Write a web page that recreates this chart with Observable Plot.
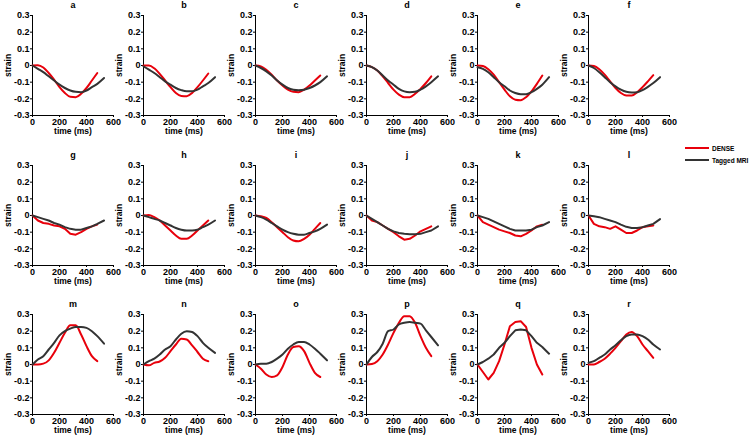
<!DOCTYPE html>
<html><head><meta charset="utf-8">
<script src="https://cdn.jsdelivr.net/npm/d3@7"></script>
<script src="https://cdn.jsdelivr.net/npm/@observablehq/plot@0.6"></script>
<style>
body{margin:0;background:#fff;}
#root{position:relative;width:750px;height:442px;font-family:"Liberation Sans",Arial,sans-serif;overflow:hidden;}
.panel{position:absolute;}
.panel svg{overflow:visible;}
#legend{position:absolute;left:685px;top:142px;font-size:6.5px;font-weight:bold;white-space:nowrap;}
</style></head><body><div id="root"></div>
<script>
const tDense  = [0,40,80,120,160,200,240,280,320,360,400,440,480];
const tTagged = [0,40,80,120,160,200,240,280,320,360,400,440,480,530];
const xTicks = [0,200,400,600];
const yTicks = [-0.3,-0.2,-0.1,0,0.1,0.2,0.3];
const panelLabels = ["a","b","c","d","e","f","g","h","i","j","k","l","m","n","o","p","q","r"];
const seriesNames = ["DENSE","Tagged MRI"];

const denseA  = [0,0.002,-0.012,-0.045,-0.085,-0.13,-0.165,-0.188,-0.19,-0.17,-0.135,-0.09,-0.045];
const taggedA = [0,-0.02,-0.04,-0.065,-0.09,-0.115,-0.135,-0.15,-0.158,-0.16,-0.15,-0.13,-0.11,-0.075];
const denseB  = [0,0,-0.017,-0.05,-0.09,-0.13,-0.165,-0.183,-0.185,-0.165,-0.13,-0.09,-0.048];
const taggedB = [-0.005,-0.025,-0.045,-0.07,-0.095,-0.115,-0.135,-0.148,-0.155,-0.155,-0.145,-0.125,-0.105,-0.07];
const denseC  = [0,-0.005,-0.025,-0.055,-0.09,-0.12,-0.145,-0.158,-0.16,-0.145,-0.12,-0.09,-0.06];
const taggedC = [0,-0.015,-0.035,-0.06,-0.09,-0.115,-0.135,-0.145,-0.148,-0.145,-0.135,-0.12,-0.1,-0.065];
const denseD  = [0,-0.01,-0.03,-0.065,-0.105,-0.145,-0.175,-0.19,-0.19,-0.17,-0.14,-0.105,-0.065];
const taggedD = [0,-0.01,-0.03,-0.06,-0.09,-0.115,-0.14,-0.155,-0.16,-0.158,-0.145,-0.125,-0.1,-0.065];
const denseE  = [0,-0.003,-0.022,-0.055,-0.1,-0.145,-0.185,-0.205,-0.208,-0.19,-0.155,-0.11,-0.06];
const taggedE = [-0.01,-0.02,-0.04,-0.07,-0.1,-0.125,-0.15,-0.165,-0.172,-0.172,-0.16,-0.14,-0.115,-0.07];
const denseF  = [0,-0.003,-0.022,-0.055,-0.095,-0.135,-0.165,-0.18,-0.18,-0.16,-0.13,-0.095,-0.058];
const taggedF = [0,-0.015,-0.04,-0.07,-0.1,-0.125,-0.145,-0.158,-0.162,-0.16,-0.148,-0.128,-0.105,-0.07];
const denseG  = [0,-0.03,-0.045,-0.05,-0.06,-0.065,-0.08,-0.11,-0.115,-0.1,-0.08,-0.065,-0.055];
const taggedG = [0,-0.01,-0.02,-0.03,-0.045,-0.055,-0.07,-0.08,-0.085,-0.085,-0.075,-0.065,-0.05,-0.03];
const denseH  = [0,0.003,-0.01,-0.03,-0.06,-0.09,-0.12,-0.14,-0.14,-0.12,-0.09,-0.06,-0.03];
const taggedH = [0,-0.01,-0.02,-0.03,-0.045,-0.06,-0.075,-0.085,-0.09,-0.09,-0.085,-0.07,-0.055,-0.03];
const denseI  = [0,-0.005,-0.015,-0.04,-0.07,-0.1,-0.13,-0.15,-0.155,-0.14,-0.115,-0.08,-0.045];
const taggedI = [0,-0.01,-0.025,-0.045,-0.065,-0.085,-0.1,-0.11,-0.115,-0.115,-0.105,-0.095,-0.08,-0.055];
const denseJ  = [0,-0.03,-0.04,-0.06,-0.08,-0.1,-0.125,-0.145,-0.14,-0.12,-0.095,-0.08,-0.065];
const taggedJ = [0,-0.02,-0.04,-0.06,-0.08,-0.095,-0.105,-0.11,-0.112,-0.112,-0.11,-0.1,-0.09,-0.065];
const denseK  = [0,-0.04,-0.055,-0.07,-0.085,-0.095,-0.105,-0.12,-0.125,-0.11,-0.09,-0.065,-0.055];
const taggedK = [0,-0.01,-0.02,-0.035,-0.05,-0.065,-0.08,-0.09,-0.09,-0.09,-0.085,-0.07,-0.06,-0.04];
const denseL  = [0,-0.05,-0.065,-0.07,-0.08,-0.065,-0.085,-0.105,-0.105,-0.09,-0.07,-0.065,-0.06];
const taggedL = [0,-0.005,-0.01,-0.02,-0.03,-0.04,-0.055,-0.068,-0.075,-0.075,-0.07,-0.06,-0.05,-0.022];
const denseM  = [0,0,0.005,0.025,0.07,0.13,0.19,0.235,0.235,0.18,0.11,0.05,0.02];
const taggedM = [0,0.03,0.05,0.09,0.13,0.175,0.2,0.215,0.225,0.225,0.22,0.2,0.17,0.125];
const denseN  = [0,-0.005,0.01,0.018,0.04,0.08,0.12,0.155,0.15,0.115,0.075,0.035,0.02];
const taggedN = [0,0.02,0.035,0.06,0.09,0.11,0.15,0.185,0.2,0.195,0.17,0.13,0.1,0.07];
const denseO  = [0,-0.025,-0.06,-0.075,-0.065,-0.015,0.06,0.105,0.11,0.08,0.01,-0.05,-0.075];
const taggedO = [0,0.005,0.005,0.015,0.035,0.06,0.095,0.12,0.135,0.135,0.12,0.095,0.065,0.025];
const denseP  = [0,0.003,0.02,0.06,0.12,0.19,0.25,0.29,0.29,0.25,0.17,0.1,0.05];
const taggedP = [0,0.045,0.075,0.125,0.2,0.21,0.24,0.25,0.255,0.25,0.245,0.205,0.165,0.115];
const denseQ  = [0,-0.045,-0.09,-0.05,0.02,0.12,0.23,0.255,0.26,0.225,0.1,0,-0.06];
const taggedQ = [0,0.015,0.035,0.06,0.1,0.13,0.17,0.205,0.21,0.205,0.17,0.13,0.105,0.065];
const denseR  = [0,0,0.015,0.035,0.065,0.1,0.14,0.18,0.195,0.17,0.12,0.08,0.04];
const taggedR = [0.01,0.02,0.04,0.06,0.09,0.115,0.145,0.17,0.18,0.18,0.17,0.15,0.12,0.09];

const denseList  = [denseA,denseB,denseC,denseD,denseE,denseF,denseG,denseH,denseI,denseJ,denseK,denseL,denseM,denseN,denseO,denseP,denseQ,denseR];
const taggedList = [taggedA,taggedB,taggedC,taggedD,taggedE,taggedF,taggedG,taggedH,taggedI,taggedJ,taggedK,taggedL,taggedM,taggedN,taggedO,taggedP,taggedQ,taggedR];
const jagged = new Set(["g","j","k","l","q"]);

const RED = "#e8000b", DARK = "#333333";
const colX = [32,143,255,366,477,588];
const rowY = [15,165,314];
const ML = 32, MR = 9, MT = 15, MB = 28, PW = 81, PH = 100;
const FONT = "'Liberation Sans', Arial, sans-serif";
const root = document.getElementById("root");

panelLabels.forEach((lab, i) => {
  const col = i % 6, row = Math.floor(i / 6);
  const dRows = tDense.map((t, k) => ({t, v: denseList[i][k]}));
  const tRows = tTagged.map((t, k) => ({t, v: taggedList[i][k]}));
  const curve = jagged.has(lab) ? "linear" : "monotone-x";
  const svg = Plot.plot({
    width: ML + PW + MR, height: MT + PH + MB,
    marginLeft: ML, marginRight: MR, marginTop: MT, marginBottom: MB,
    x: {domain: [0, 600]},
    y: {domain: [-0.3, 0.3]},
    style: {fontFamily: FONT, fontSize: "9px", fontWeight: "bold", color: "#000", background: "transparent", overflow: "visible"},
    marks: [
      Plot.axisX({ticks: xTicks, tickSize: 2, tickPadding: 1, label: null, tickFormat: d => String(d)}),
      Plot.axisY({ticks: yTicks, tickSize: 2, tickPadding: 1, label: null, tickFormat: d => Math.abs(d) < 1e-9 ? "0" : d.toFixed(1)}),
      Plot.ruleX([0], {stroke: "#000"}),
      Plot.ruleY([-0.3], {stroke: "#000"}),
      Plot.line(dRows, {x: "t", y: "v", stroke: RED, strokeWidth: 2, curve}),
      Plot.line(tRows, {x: "t", y: "v", stroke: DARK, strokeWidth: 2, curve}),
      Plot.text([lab], {frameAnchor: "top", dy: -10, lineAnchor: "middle", fontSize: 9}),
      Plot.text(["time (ms)"], {frameAnchor: "bottom", dy: 16, lineAnchor: "middle", fontSize: 8.5}),
      Plot.text(["strain"], {frameAnchor: "left", dx: -24, rotate: -90, textAnchor: "middle", lineAnchor: "middle", fontSize: 8.5})
    ]
  });
  const div = document.createElement("div");
  div.className = "panel";
  div.style.left = (colX[col] - ML) + "px";
  div.style.top = (rowY[row] - MT) + "px";
  div.appendChild(svg);
  root.appendChild(div);
});

// legend
const legend = document.createElement("div");
legend.id = "legend";
const colors = [RED, DARK];
legend.innerHTML = seriesNames.map((n, k) =>
  `<div style="display:flex;align-items:center;height:12px;"><svg width="27" height="4"><line x1="0" x2="24" y1="2" y2="2" stroke="${colors[k]}" stroke-width="2"/></svg><span>${n}</span></div>`
).join("");
root.appendChild(legend);
</script>
</body></html>
